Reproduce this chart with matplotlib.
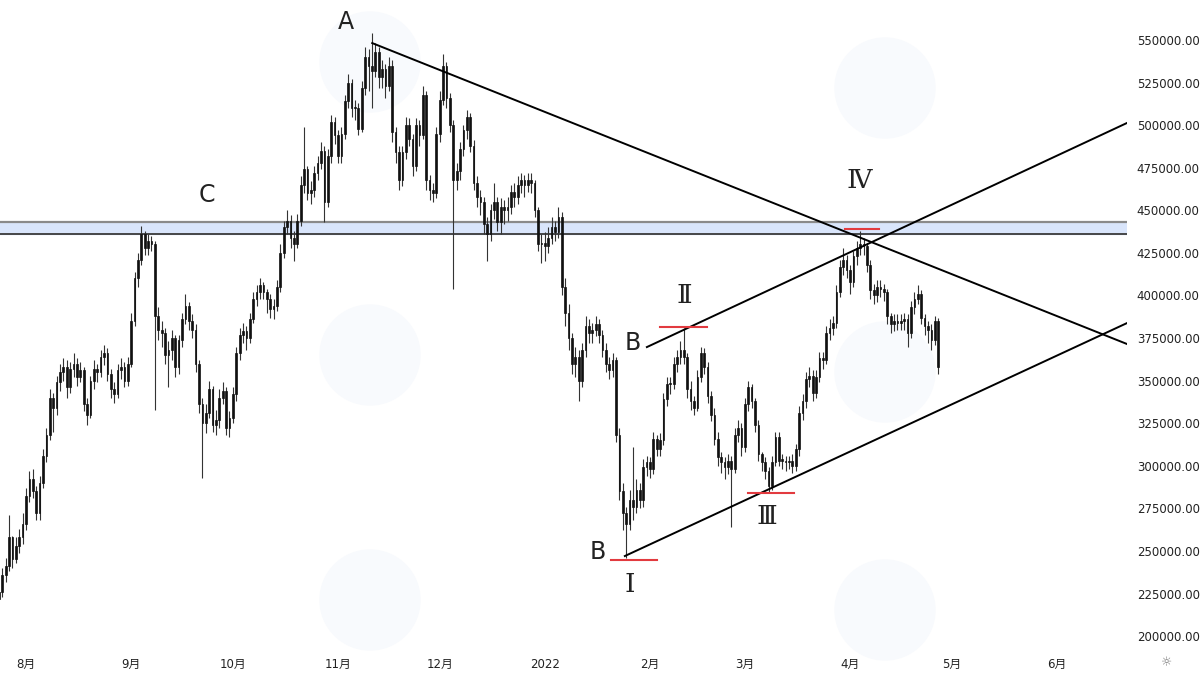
import numpy as np
import pandas as pd
import matplotlib
matplotlib.use('Agg')
import matplotlib.pyplot as plt
import matplotlib.dates as mdates
from matplotlib.patches import Ellipse
from matplotlib.ticker import FuncFormatter, FixedLocator

plt.rcParams['font.family'] = ['DejaVu Sans', 'Noto Sans CJK SC']

# daily candles, values in thousands
start = '2021-07-24'
first_open = 222
closes = [
    226, 236, 241, 258, 245, 253, 258, 266, 282, 292,
    285, 272, 290, 306, 318, 340, 334, 349, 355, 358,
    346, 357, 360, 352, 356, 336, 330, 350, 357, 355,
    364, 366, 354, 345, 342, 356, 358, 350, 360, 385,
    410, 421, 436, 428, 432, 430, 388, 380, 378, 365,
    368, 375, 358, 374, 386, 394, 385, 380, 360, 336,
    325, 331, 345, 324, 327, 340, 344, 322, 328, 342,
    366, 377, 379, 375, 386, 398, 402, 406, 402, 398,
    392, 394, 405, 425, 440, 444, 434, 430, 444, 465,
    474, 460, 462, 472, 478, 485, 455, 482, 502, 494,
    482, 495, 514, 525, 510, 510, 498, 522, 540, 535,
    532, 543, 528, 533, 523, 535, 496, 484, 468, 484,
    500, 492, 476, 500, 494, 518, 468, 462, 460, 495,
    515, 535, 516, 500, 468, 473, 486, 497, 505, 488,
    466, 458, 455, 442, 436, 450, 455, 443, 452, 450,
    452, 461, 458, 465, 468, 465, 468, 466, 450, 430,
    431, 429, 434, 440, 437, 446, 405, 390, 375, 360,
    364, 350, 368, 382, 378, 380, 383, 377, 368, 360,
    356, 362, 318, 285, 272, 266, 280, 276, 286, 280,
    299, 302, 298, 316, 310, 315, 339, 348, 348, 360,
    364, 368, 364, 345, 338, 334, 352, 366, 358, 341,
    330, 316, 305, 302, 299, 303, 298, 318, 322, 311,
    336, 346, 338, 324, 307, 302, 297, 288, 302, 317,
    303, 303, 302, 303, 300, 310, 331, 338, 351, 353,
    343, 352, 363, 362, 378, 381, 384, 402, 417, 421,
    415, 408, 423, 428, 430, 429, 418, 403, 400, 405,
    404, 402, 388, 383, 385, 384, 385, 386, 378, 393,
    398, 401, 387, 382, 380, 374, 385, 358,
]
highs = [
    231, 240, 246, 271, 259, 258, 263, 272, 287, 297,
    298, 288, 294, 310, 322, 345, 343, 353, 360, 363,
    362, 361, 366, 363, 361, 358, 340, 353, 362, 360,
    368, 371, 369, 357, 349, 360, 363, 361, 364, 390,
    414, 425, 441, 438, 436, 435, 432, 393, 385, 381,
    373, 380, 377, 377, 390, 401, 396, 389, 383, 362,
    340, 336, 350, 347, 333, 345, 349, 346, 332, 346,
    370, 381, 384, 382, 390, 402, 406, 410, 408, 404,
    401, 398, 409, 430, 444, 450, 447, 438, 448, 470,
    499, 476, 467, 476, 482, 490, 488, 486, 506, 505,
    497, 499, 518, 530, 527, 515, 513, 526, 546, 545,
    554, 548, 546, 538, 536, 540, 538, 499, 488, 488,
    505, 504, 495, 504, 503, 523, 520, 471, 466, 499,
    520, 542, 537, 519, 503, 478, 490, 500, 509, 507,
    491, 470, 462, 458, 446, 454, 466, 458, 457, 456,
    458, 465, 466, 470, 472, 471, 472, 472, 468, 452,
    436, 437, 440, 446, 444, 452, 449, 410, 395, 378,
    370, 368, 372, 388, 386, 384, 388, 386, 380, 372,
    364, 366, 364, 322, 290, 276, 286, 311, 292, 290,
    304, 306, 305, 320, 318, 319, 343, 352, 352, 364,
    368, 373, 381, 366, 350, 341, 356, 370, 369, 361,
    344, 334, 320, 308, 305, 307, 306, 322, 327, 325,
    340, 350, 348, 340, 327, 308, 305, 299, 306, 320,
    320, 307, 306, 306, 307, 313, 335, 342, 355, 358,
    356, 356, 367, 367, 382, 386, 388, 406, 421, 428,
    424, 418, 426, 432, 438, 434, 431, 421, 407, 409,
    409, 407, 404, 390, 389, 389, 389, 390, 389, 397,
    402, 406, 403, 389, 385, 383, 388, 387,
]
lows = [
    219, 223, 232, 238, 240, 243, 249, 254, 262, 279,
    281, 268, 268, 287, 302, 315, 320, 330, 344, 350,
    340, 343, 352, 347, 349, 332, 324, 328, 345, 349,
    352, 359, 350, 340, 337, 340, 351, 346, 347, 358,
    382, 405, 418, 424, 424, 426, 333, 374, 370, 360,
    346, 362, 352, 354, 370, 383, 380, 375, 355, 331,
    293, 319, 328, 320, 318, 322, 336, 318, 317, 325,
    338, 362, 372, 368, 372, 384, 394, 398, 398, 390,
    387, 386, 391, 402, 422, 436, 428, 420, 428, 441,
    460, 456, 454, 458, 468, 474, 443, 452, 478, 489,
    478, 478, 492, 510, 505, 503, 494, 496, 518, 520,
    510, 528, 522, 522, 516, 520, 490, 478, 462, 464,
    480, 488, 470, 473, 488, 492, 462, 456, 455, 457,
    490, 512, 510, 496, 404, 462, 468, 482, 492, 484,
    462, 452, 447, 436, 420, 432, 445, 438, 436, 442,
    444, 448, 452, 454, 460, 458, 461, 460, 446, 426,
    419, 420, 425, 430, 432, 434, 400, 382, 368, 354,
    352, 338, 346, 364, 372, 372, 376, 372, 364, 355,
    351, 352, 314, 280, 262, 246, 262, 268, 272, 275,
    276, 294, 293, 295, 306, 306, 312, 335, 342, 345,
    355, 360, 360, 340, 333, 330, 332, 349, 354, 337,
    326, 312, 300, 296, 292, 295, 264, 296, 314, 306,
    308, 332, 334, 320, 303, 297, 292, 284, 286, 300,
    300, 298, 297, 298, 296, 297, 306, 327, 334, 346,
    338, 340, 349, 357, 360, 374, 377, 381, 399, 412,
    410, 401, 405, 418, 424, 424, 414, 398, 395, 396,
    399, 397, 383, 378, 379, 380, 380, 380, 370, 375,
    389, 395, 383, 377, 372, 368, 371, 354,
]

# drawings: (day offset from start, price in thousands)
band = (436, 443)
line_a = [(110.1, 548.2), (332.7, 371.5)]
line_upper = [(191.1, 369.7), (332.7, 501.3)]
line_lower = [(184.6, 247.0), (332.7, 383.8)]
red_marks = [((195.0, 208.8), 381.5), ((180.5, 194.1), 244.6),
             ((220.9, 234.5), 284.0), ((249.5, 259.5), 439.0)]
letters = [('A', 102.4, 560.6), ('C', 61.4, 459.0), ('B', 187.0, 372.1), ('B', 176.7, 249.3)]
numerals = [('Ⅳ', 253.6, 467.8), ('Ⅱ', 202.0, 400.2), ('Ⅰ', 186.1, 230.5), ('Ⅲ', 226.5, 270.5)]

month_ticks = ['2021-08-01', '2021-09-01', '2021-10-01', '2021-11-01', '2021-12-01', '2022-01-01',
               '2022-02-01', '2022-03-01', '2022-04-01', '2022-05-01', '2022-06-01']
month_labels = ['8月', '9月', '10月', '11月', '12月', '2022', '2月', '3月', '4月', '5月', '6月']
price_ticks = np.arange(200, 551, 25)

fig = plt.figure(figsize=(12, 6.75), dpi=100, facecolor='white')

# very faint watermark logos
for cx, cy in [(370, 62), (885, 88), (370, 355), (885, 372), (370, 600), (885, 610)]:
    fig.add_artist(Ellipse((cx / 1200, 1 - cy / 675), 100 / 1200, 100 / 675,
                           transform=fig.transFigure, color='#f8fafd', zorder=-1))

ax = fig.add_axes([0, 27 / 675, 1127 / 1200, 648 / 675])
ax.set_facecolor('none')

t0 = mdates.date2num(pd.Timestamp(start))
days = mdates.date2num(pd.date_range(start, periods=len(closes), freq='D'))
closes = np.array(closes, dtype=float)
opens = np.concatenate([[first_open], closes[:-1]])

ax.vlines(days, lows, highs, color='#333333', lw=0.8, zorder=3)
body_lo = np.minimum(opens, closes)
body_h = np.maximum(np.abs(closes - opens), 0.8)
ax.bar(days, body_h, bottom=body_lo, width=0.5, color='#111111',
       edgecolor='#111111', linewidth=0.5, zorder=4)

# horizontal zone
ax.axhspan(band[0], band[1], color='#d9e5fb', zorder=1)
ax.axhline(band[1], color='#8a8a8a', lw=1.6, zorder=2)
ax.axhline(band[0], color='#3a3a3a', lw=1.3, zorder=2)

for ln in [line_a, line_upper, line_lower]:
    ax.plot([t0 + ln[0][0], t0 + ln[1][0]], [ln[0][1], ln[1][1]], color='black', lw=1.4, zorder=5)

for (d1, d2), v in red_marks:
    ax.plot([t0 + d1, t0 + d2], [v, v], color='#e23a3f', lw=1.5, zorder=6)

for s, d, v in letters:
    ax.text(t0 + d, v, s, fontsize=17, color='#222222', ha='center', va='center', zorder=7)
for s, d, v in numerals:
    ax.text(t0 + d, v, s, fontsize=19, color='#222222', ha='center', va='center', zorder=7,
            family=['DejaVu Serif', 'Noto Sans CJK SC'])

ax.set_xlim(t0 + 0.32, t0 + 332.7)
ax.set_ylim(193.0, 573.5)

ax.xaxis.set_major_locator(FixedLocator(mdates.date2num(pd.to_datetime(month_ticks))))
ax.set_xticklabels(month_labels)
ax.yaxis.tick_right()
ax.yaxis.set_major_locator(FixedLocator(price_ticks))
ax.yaxis.set_major_formatter(FuncFormatter(lambda v, p: f'{v * 1000:.2f}'))
ax.tick_params(axis='both', length=0, labelsize=8.5, labelcolor='#222222')
ax.tick_params(axis='x', pad=7)
ax.tick_params(axis='y', pad=7)
for sp in ax.spines.values():
    sp.set_visible(False)

fig.text(1167 / 1200, 1 - 663 / 675, '☼', fontsize=9, color='#777777', ha='center', va='center')

fig.savefig('out.png', dpi=100, facecolor='white')
